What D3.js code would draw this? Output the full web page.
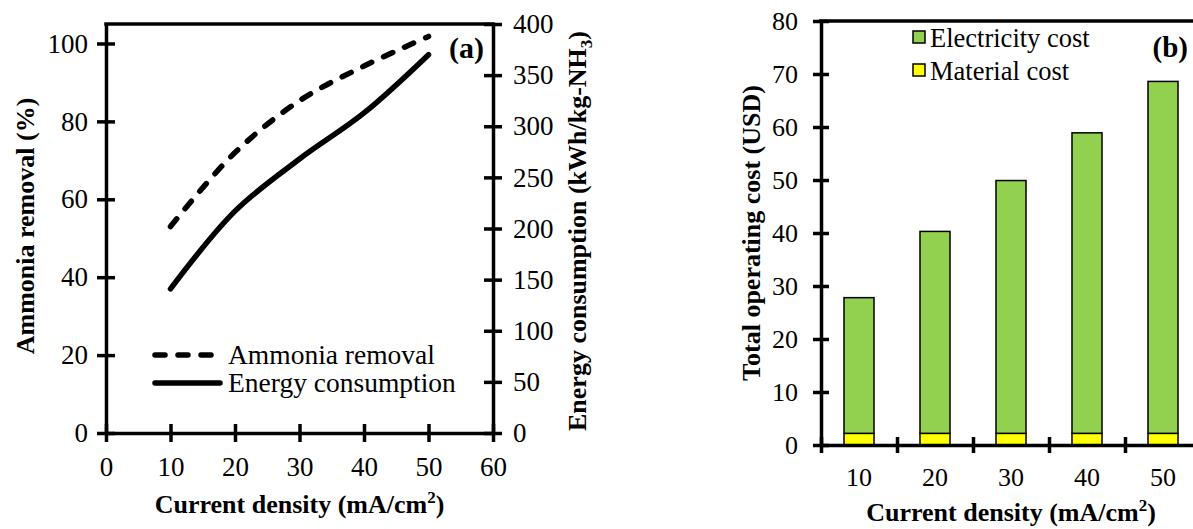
<!DOCTYPE html>
<html>
<head>
<meta charset="utf-8">
<script src="https://cdn.jsdelivr.net/npm/d3@7"></script>
<style>
  body { margin: 0; background: #fff; }
  svg { display: block; font-family: "Liberation Serif", "Times New Roman", serif; }
</style>
</head>
<body>
<script>
const W = 1193, H = 529;

// panel (a)
const density = [10, 20, 30, 40, 50];
const ammoniaRemoval = [53, 72, 85.3, 94.2, 101.8];
const energyUse = [141, 217, 268, 313, 370];
const xTicksA = [0, 10, 20, 30, 40, 50, 60];
const yTicksA = [0, 20, 40, 60, 80, 100];
const y2TicksA = [0, 50, 100, 150, 200, 250, 300, 350, 400];

// panel (b)
const densityLabels = ["10", "20", "30", "40", "50"];
const materialCost = [2.2, 2.2, 2.2, 2.2, 2.2];
const electricityCost = [25.6, 38.1, 47.7, 56.7, 66.4];
const yTicksB = [0, 10, 20, 30, 40, 50, 60, 70, 80];

const svg = d3.select("body").append("svg")
    .attr("width", W)
    .attr("height", H);

// make ticks cross the axis line
function crossTicks(g, horizontal, len) {
    g.selectAll(".tick line")
        .attr("stroke", "#000")
        .attr("stroke-width", 3.5);
    if (horizontal) g.selectAll(".tick line").attr("y1", -len).attr("y2", len);
    else g.selectAll(".tick line").attr("x1", -len).attr("x2", len);
    g.select(".domain").attr("stroke", "#000").attr("stroke-width", 3.5);
}

/* ---------- (a) ---------- */
const xA = d3.scaleLinear([0, 60], [106, 493]);
const yA = d3.scaleLinear([0, 105], [433, 24]);
const y2A = d3.scaleLinear([0, 400], [433, 24]);

const gA = svg.append("g");

// top frame
gA.append("line")
    .attr("x1", xA(0)).attr("x2", xA(60))
    .attr("y1", yA.range()[1]).attr("y2", yA.range()[1])
    .attr("stroke", "#000").attr("stroke-width", 3.5)
    .attr("stroke-linecap", "square");

gA.append("g")
    .attr("transform", `translate(${xA(0)},0)`)
    .call(d3.axisLeft(yA).tickValues(yTicksA).tickSize(9).tickSizeOuter(0).tickPadding(9))
    .call(g => crossTicks(g, false, 9))
    .call(g => g.selectAll("text").attr("font-size", 27).attr("font-family", "Liberation Serif"));

gA.append("g")
    .attr("transform", `translate(${xA(60)},0)`)
    .call(d3.axisRight(y2A).tickValues(y2TicksA).tickSize(9).tickSizeOuter(0).tickPadding(11))
    .call(g => crossTicks(g, false, 9))
    .call(g => g.selectAll("text").attr("font-size", 27).attr("font-family", "Liberation Serif"));

gA.append("g")
    .attr("transform", `translate(0,${yA(0)})`)
    .call(d3.axisBottom(xA).tickValues(xTicksA).tickSize(9).tickSizeOuter(0))
    .call(g => crossTicks(g, true, 9))
    .call(g => g.selectAll("text").attr("font-size", 27).attr("font-family", "Liberation Serif")
        .attr("dy", null).attr("y", 43));

const curve = d3.curveCatmullRom.alpha(0.5);

const lineRem = d3.line()
    .x((d, i) => xA(density[i]))
    .y(d => yA(d))
    .curve(curve);
const lineEn = d3.line()
    .x((d, i) => xA(density[i]))
    .y(d => y2A(d))
    .curve(curve);

gA.append("path")
    .attr("d", lineRem(ammoniaRemoval))
    .attr("fill", "none").attr("stroke", "#000")
    .attr("stroke-width", 5.5)
    .attr("stroke-linecap", "round")
    .attr("stroke-dasharray", "10 13");

gA.append("path")
    .attr("d", lineEn(energyUse))
    .attr("fill", "none").attr("stroke", "#000")
    .attr("stroke-width", 5.5)
    .attr("stroke-linecap", "round");

// legend (a)
const legA = [
    { label: "Ammonia removal", dash: "10 13", y: 355 },
    { label: "Energy consumption", dash: null, y: 383 }
];
const lgA = gA.selectAll(".leg").data(legA).join("g").attr("class", "leg");
lgA.append("line")
    .attr("x1", 155).attr("x2", 220)
    .attr("y1", d => d.y).attr("y2", d => d.y)
    .attr("stroke", "#000").attr("stroke-width", 5.5)
    .attr("stroke-linecap", "round")
    .attr("stroke-dasharray", d => d.dash);
lgA.append("text")
    .attr("x", 228).attr("y", d => d.y + 9)
    .attr("font-size", 27.5)
    .text(d => d.label);

gA.append("text")
    .attr("x", 484).attr("y", 58)
    .attr("text-anchor", "end")
    .attr("font-size", 30).attr("font-weight", "bold")
    .text("(a)");

// axis titles (a)
const tA = gA.append("text")
    .attr("x", (xA(0) + xA(60)) / 2).attr("y", 513)
    .attr("text-anchor", "middle")
    .attr("font-size", 26).attr("font-weight", "bold");
tA.append("tspan").text("Current density (mA/cm");
tA.append("tspan").attr("font-size", 17).attr("dy", -10).text("2");
tA.append("tspan").attr("dy", 10).text(")");

gA.append("text")
    .attr("transform", "translate(34,226) rotate(-90)")
    .attr("text-anchor", "middle")
    .attr("font-size", 26).attr("font-weight", "bold")
    .text("Ammonia removal (%)");

const rt = gA.append("text")
    .attr("transform", "translate(586,231) rotate(-90)")
    .attr("text-anchor", "middle")
    .attr("font-size", 26).attr("font-weight", "bold");
rt.append("tspan").text("Energy consumption (kWh/kg-NH");
rt.append("tspan").attr("font-size", 17).attr("dy", 6).text("3");
rt.append("tspan").attr("dy", -6).text(")");

/* ---------- (b) ---------- */
const xB = d3.scaleBand(densityLabels, [821, 1201]).paddingInner(0.605).paddingOuter(0.3025);
const xEdges = d3.scaleLinear([0, 5], [821, 1201]);
const yB = d3.scaleLinear([0, 80], [445, 21]);

const gB = svg.append("g");

gB.append("line")
    .attr("x1", 821).attr("x2", 1201)
    .attr("y1", yB(80)).attr("y2", yB(80))
    .attr("stroke", "#000").attr("stroke-width", 3.5)
    .attr("stroke-linecap", "square");

const stack = d3.stack().keys(["material", "electricity"])(
    densityLabels.map((c, i) => ({ cat: c, material: materialCost[i], electricity: electricityCost[i] }))
);
const fills = { material: "#FFFF00", electricity: "#92D050" };

gB.selectAll(".series").data(stack).join("g")
    .attr("fill", d => fills[d.key])
    .selectAll("rect").data(d => d).join("rect")
    .attr("x", d => xB(d.data.cat))
    .attr("width", xB.bandwidth())
    .attr("y", d => yB(d[1]))
    .attr("height", d => yB(d[0]) - yB(d[1]))
    .attr("stroke", "#000").attr("stroke-width", 1.5);

gB.append("g")
    .attr("transform", `translate(821,0)`)
    .call(d3.axisLeft(yB).tickValues(yTicksB).tickSize(8).tickSizeOuter(0).tickPadding(15))
    .call(g => crossTicks(g, false, 8))
    .call(g => g.selectAll("text").attr("font-size", 26).attr("font-family", "Liberation Serif"));

gB.append("g")
    .attr("transform", `translate(0,${yB(0)})`)
    .call(d3.axisBottom(xEdges).tickValues([0, 1, 2, 3, 4, 5]).tickSize(8).tickSizeOuter(0).tickFormat(""))
    .call(g => crossTicks(g, true, 8));

gB.append("g")
    .attr("transform", `translate(0,${yB(0)})`)
    .call(d3.axisBottom(xB).tickSize(0))
    .call(g => g.select(".domain").remove())
    .call(g => g.selectAll("text").attr("font-size", 26).attr("font-family", "Liberation Serif")
        .attr("dy", null).attr("y", 41));

// legend (b)
const legB = [
    { key: "electricity", label: "Electricity cost", y: 31 },
    { key: "material", label: "Material cost", y: 64 }
];
const lgB = gB.selectAll(".legb").data(legB).join("g").attr("class", "legb");
lgB.append("rect")
    .attr("x", 913).attr("y", d => d.y)
    .attr("width", 12).attr("height", 12)
    .attr("fill", d => fills[d.key])
    .attr("stroke", "#000").attr("stroke-width", 1.5);
lgB.append("text")
    .attr("x", 930).attr("y", d => d.y + 16)
    .attr("font-size", 26.5)
    .text(d => d.label);

gB.append("text")
    .attr("x", 1188).attr("y", 57)
    .attr("text-anchor", "end")
    .attr("font-size", 29).attr("font-weight", "bold")
    .text("(b)");

const tB = gB.append("text")
    .attr("x", 1011).attr("y", 521)
    .attr("text-anchor", "middle")
    .attr("font-size", 26).attr("font-weight", "bold");
tB.append("tspan").text("Current density (mA/cm");
tB.append("tspan").attr("font-size", 17).attr("dy", -10).text("2");
tB.append("tspan").attr("dy", 10).text(")");

gB.append("text")
    .attr("transform", "translate(760,233) rotate(-90)")
    .attr("text-anchor", "middle")
    .attr("font-size", 26).attr("font-weight", "bold")
    .text("Total operating cost (USD)");
</script>
</body>
</html>
